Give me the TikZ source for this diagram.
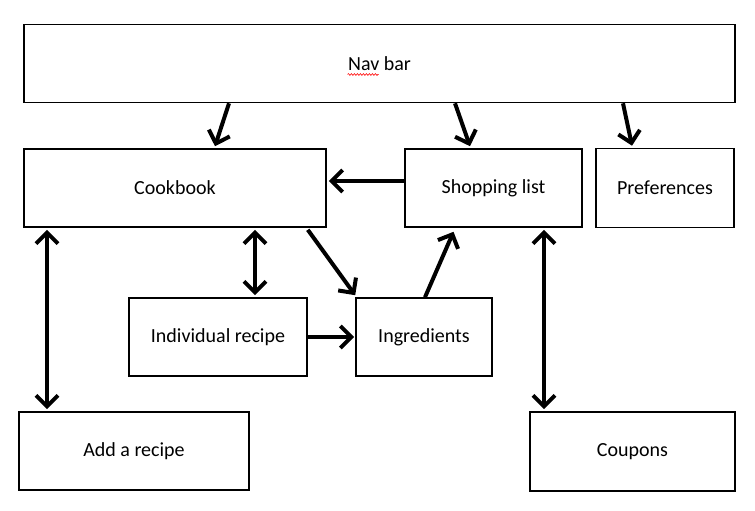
\documentclass[tikz,border=0pt]{standalone}
\usepackage{fontspec}
\setmainfont{Carlito}
\usetikzlibrary{arrows.meta,decorations.pathmorphing}

\tikzset{
    screen/.style={draw,line width=1.6pt,fill=white,inner sep=0pt,font=\fontsize{20}{24}\selectfont},
    link/.style={line width=4pt,-{Straight Barb[length=11pt,width=22pt,line width=4pt]}},
    twoway/.style={line width=4pt,{Straight Barb[length=11pt,width=22pt,line width=4pt]}-{Straight Barb[length=11pt,width=22pt,line width=4pt]}}
}

\begin{document}
\begin{tikzpicture}[x=1pt,y=-1pt]
    \useasboundingbox (0,0) rectangle (755,511);
    % screens
    \node[screen,minimum width=711pt,minimum height=78pt] (navbar) at (379.5,63.5) {Nav bar};
    \node[screen,minimum width=302pt,minimum height=78pt] (cookbook) at (175,188) {Cookbook};
    \node[screen,minimum width=177pt,minimum height=78pt] (shopping) at (493.5,188) {Shopping list};
    \node[screen,minimum width=138pt,minimum height=79pt] (prefs) at (665,188) {Preferences};
    \node[screen,minimum width=178pt,minimum height=78pt] (recipe) at (218,337) {Individual recipe};
    \node[screen,minimum width=136pt,minimum height=78pt] (ingredients) at (424,337) {Ingredients};
    \node[screen,minimum width=230pt,minimum height=78pt] (addrecipe) at (134,451) {Add a recipe};
    \node[screen,minimum width=205pt,minimum height=79pt] (coupons) at (632.5,451.5) {Coupons};
    % spell check mark
    \draw[red,line width=0.6pt,decorate,decoration={snake,amplitude=0.9pt,segment length=3pt}]
        ([xshift=-32pt,yshift=-11pt]navbar.center) -- ([xshift=-1pt,yshift=-11pt]navbar.center);
    % links
    \draw[link] ([xshift=-150.5pt]navbar.south) -- ([xshift=40pt,yshift=2pt]cookbook.north);
    \draw[link] ([xshift=75.5pt]navbar.south) -- ([xshift=-23.5pt,yshift=2pt]shopping.north);
    \draw[link] ([xshift=243.5pt]navbar.south) -- ([xshift=-33pt,yshift=2pt]prefs.north);
    \draw[link] ([yshift=7pt]shopping.west) -- ([xshift=2pt,yshift=7pt]cookbook.east);
    \draw[twoway] ([xshift=80pt,yshift=-2pt]cookbook.south) -- ([xshift=37pt,yshift=2pt]recipe.north);
    \draw[twoway] ([xshift=-128pt,yshift=-2pt]cookbook.south) -- ([xshift=-87pt,yshift=2pt]addrecipe.north);
    \draw[link] ([xshift=-19pt,yshift=-2pt]cookbook.south east) -- ([yshift=2pt]ingredients.north west);
    \draw[link] (recipe.east) -- ([xshift=-1pt]ingredients.west);
    \draw[link] ([xshift=1pt]ingredients.north) -- ([xshift=-40pt,yshift=-4pt]shopping.south);
    \draw[twoway] ([xshift=50.5pt,yshift=-2pt]shopping.south) -- ([xshift=-88.5pt,yshift=2pt]coupons.north);
\end{tikzpicture}
\end{document}
